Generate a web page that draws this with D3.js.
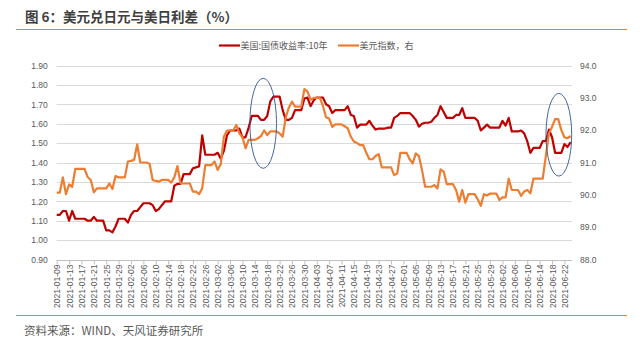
<!DOCTYPE html>
<html><head><meta charset="utf-8">
<script src="https://cdn.jsdelivr.net/npm/d3@7"></script>
<style>
html,body{margin:0;padding:0;background:#fff;}
svg{display:block;}
</style></head>
<body>
<svg id="c" width="643" height="350"></svg>
<script>
// ---- data ----
const startDate = "2021-01-09", endDate = "2021-06-24";
const seriesNames = ["美国:国债收益率:10年", "美元指数，右"];
const us10y = [
1.13,1.13,1.15,1.15,1.10,1.15,1.11,1.11,1.11,1.11,
1.10,1.10,1.12,1.10,1.10,1.10,1.05,1.05,1.04,1.07,
1.11,1.11,1.11,1.09,1.13,1.15,1.15,1.17,1.19,1.19,
1.19,1.18,1.15,1.16,1.18,1.20,1.20,1.20,1.28,1.29,
1.29,1.34,1.34,1.34,1.37,1.375,1.38,1.54,1.44,1.44,
1.44,1.44,1.45,1.42,1.46,1.54,1.565,1.565,1.565,1.575,
1.53,1.53,1.58,1.64,1.64,1.64,1.62,1.62,1.64,1.715,
1.74,1.74,1.74,1.67,1.62,1.62,1.63,1.67,1.67,1.67,
1.73,1.735,1.69,1.72,1.735,1.735,1.735,1.70,1.69,1.655,
1.67,1.67,1.67,1.67,1.69,1.645,1.64,1.58,1.595,1.595,
1.595,1.615,1.59,1.57,1.575,1.575,1.575,1.58,1.58,1.63,
1.64,1.655,1.655,1.655,1.655,1.64,1.62,1.585,1.60,1.605,
1.605,1.61,1.63,1.645,1.69,1.66,1.63,1.63,1.63,1.645,
1.645,1.68,1.63,1.63,1.63,1.63,1.615,1.565,1.58,1.595,
1.58,1.58,1.58,1.58,1.615,1.59,1.63,1.56,1.56,1.56,
1.565,1.55,1.51,1.45,1.475,1.475,1.475,1.51,1.51,1.57,
1.53,1.45,1.45,1.45,1.495,1.48,1.505
];
const dxy = [
90.07,90.07,90.54,90.02,90.32,90.25,90.80,90.80,90.80,90.80,
90.55,90.46,90.08,90.20,90.20,90.20,90.20,90.35,90.18,90.58,
90.54,90.54,90.54,91.03,91.05,91.08,91.56,91.00,91.00,91.00,
90.96,90.46,90.43,90.41,90.46,90.46,90.46,90.38,90.54,90.89,
90.35,90.35,90.35,90.35,90.10,90.10,90.02,90.20,90.92,90.92,
90.92,91.03,90.77,90.95,91.80,91.99,91.99,91.99,92.16,91.90,
91.78,91.44,91.70,91.70,91.70,91.75,91.82,91.99,91.85,91.96,
91.96,91.96,91.90,91.80,92.40,92.70,92.88,92.73,92.73,92.73,
93.27,93.20,92.94,93.00,93.00,93.00,92.75,92.40,92.36,92.10,
92.18,92.18,92.18,92.12,92.06,91.80,91.65,91.60,91.54,91.54,
91.30,91.10,91.10,91.20,91.26,90.85,90.85,90.85,90.85,90.61,
90.66,91.30,91.30,91.30,91.10,90.97,91.28,91.20,90.77,90.25,
90.25,90.25,90.30,90.20,90.79,90.72,90.33,90.33,90.33,90.15,
89.79,90.15,89.76,90.02,90.02,90.02,89.86,89.66,90.02,89.98,
90.04,90.04,90.04,89.84,89.92,89.92,90.50,90.15,90.15,90.15,
89.97,90.10,90.15,90.05,90.50,90.50,90.50,90.50,91.20,91.90,
92.10,92.34,92.34,92.00,91.78,91.75,91.82
];
const leftTicks = [0.9,1.0,1.1,1.2,1.3,1.4,1.5,1.6,1.7,1.8,1.9];
const rightTicks = [88,89,90,91,92,93,94];
// highlight ellipses: [center category index, center left-axis value, half-height in left-axis units, half-width in categories]
const ellipseIdx = [66.7, 162.2];
const ellipseVal = [1.602, 1.543];
const ellipseRy = [0.232, 0.213];
const ellipseRx = [4.3, 4.15];

// ---- build ----
const fmt = d3.timeFormat("%Y-%m-%d");
const parse = d3.timeParse("%Y-%m-%d");
const dates = d3.timeDay.range(parse(startDate), d3.timeDay.offset(parse(endDate), 1)).map(fmt);

const svg = d3.select("#c");
const L = 56.7, R = 570.6, T = 65.5, B = 259.5;
const x = d3.scalePoint().domain(dates).range([L, R]);
const step = (R - L) / (dates.length - 1);
const xi = i => L + i * step;
const yL = d3.scaleLinear().domain([0.9, 1.9]).range([B, T]);
const yR = d3.scaleLinear().domain([88, 94]).range([B, T]);

const gray = "#595959";
const numFont = "'Liberation Sans', Arial, sans-serif";
const cjkFont = "'Noto Sans CJK SC', 'Microsoft YaHei', sans-serif";

// title
svg.append("text").attr("x", 25).attr("y", 22).attr("font-family", cjkFont)
  .attr("font-size", 13.5).attr("font-weight", "bold").attr("fill", "#404040")
  .text("图 6：美元兑日元与美日利差（%）");
svg.append("line").attr("x1", 16).attr("x2", 627).attr("y1", 29.5).attr("y2", 29.5)
  .attr("stroke", "#E9822E").attr("stroke-width", 1.2);

// gridlines
svg.append("g").selectAll("line").data(leftTicks.slice(1)).join("line")
  .attr("x1", L).attr("x2", 572).attr("y1", d => Math.round(yL(d)) + 0.5).attr("y2", d => Math.round(yL(d)) + 0.5)
  .attr("stroke", "#D9D9D9").attr("stroke-width", 1);

// left axis
const gl = svg.append("g").attr("transform", `translate(${L},0)`)
  .call(d3.axisLeft(yL).tickValues(leftTicks).tickFormat(d3.format(".2f")).tickSize(0).tickPadding(9));
gl.select(".domain").remove();
gl.selectAll("text").attr("font-family", numFont).attr("font-size", 8.5).attr("fill", gray);

// right axis
const gr = svg.append("g").attr("transform", `translate(572,0)`)
  .call(d3.axisRight(yR).tickValues(rightTicks).tickFormat(d3.format(".1f")).tickSize(0).tickPadding(8));
gr.select(".domain").remove();
gr.selectAll("text").attr("font-family", numFont).attr("font-size", 8.5).attr("fill", gray);

// bottom axis
const tickDates = dates.filter((d, i) => i % 4 === 0);
const gb = svg.append("g").attr("transform", `translate(0,${Math.round(B) + 0.5})`)
  .call(d3.axisBottom(x).tickValues(tickDates).tickSize(4).tickSizeOuter(0).tickPadding(3));
gb.select(".domain").attr("stroke", "#BFBFBF").attr("d", `M${L},0H572`);
gb.selectAll(".tick line").attr("stroke", "#BFBFBF");
gb.selectAll("text").attr("font-family", numFont).attr("font-size", 8.5).attr("fill", gray)
  .attr("transform", "rotate(-90)").attr("text-anchor", "end").attr("dx", "-4").attr("dy", "-0.3em").attr("y", 0).attr("x", 0);
gb.selectAll("text").attr("dy", "0.35em");

// lines
const lineL = d3.line().x((d, i) => x(dates[i])).y(d => yL(d));
const lineR = d3.line().x((d, i) => x(dates[i])).y(d => yR(d));
svg.append("path").datum(us10y).attr("d", lineL).attr("fill", "none")
  .attr("stroke", "#C00000").attr("stroke-width", 2.2).attr("stroke-linejoin", "round");
svg.append("path").datum(dxy).attr("d", lineR).attr("fill", "none")
  .attr("stroke", "#ED7D31").attr("stroke-width", 2.2).attr("stroke-linejoin", "round");

// ellipses
ellipseIdx.forEach((ci, k) => {
  svg.append("ellipse").attr("cx", xi(ci)).attr("cy", yL(ellipseVal[k]))
    .attr("rx", ellipseRx[k] * step).attr("ry", yL(0.9) - yL(0.9 + ellipseRy[k]))
    .attr("fill", "none").attr("stroke", "#2F5597").attr("stroke-width", 0.9);
});

// legend
const lg = svg.append("g");
const leg = [{n: seriesNames[0], c: "#C00000", x: 219}, {n: seriesNames[1], c: "#ED7D31", x: 338}];
leg.forEach(l => {
  lg.append("line").attr("x1", l.x).attr("x2", l.x + 21).attr("y1", 45.5).attr("y2", 45.5)
    .attr("stroke", l.c).attr("stroke-width", 2.2);
  lg.append("text").attr("x", l.x + 21.5).attr("y", 49).attr("font-family", cjkFont)
    .attr("font-size", 9).attr("fill", gray).text(l.n);
});

// footer
svg.append("line").attr("x1", 16).attr("x2", 627).attr("y1", 315.5).attr("y2", 315.5)
  .attr("stroke", "#E9822E").attr("stroke-width", 1.2);
svg.append("text").attr("x", 24).attr("y", 335).attr("font-family", cjkFont)
  .attr("font-size", 11.5).attr("fill", gray).text("资料来源：WIND、天风证券研究所");
</script>
</body></html>
